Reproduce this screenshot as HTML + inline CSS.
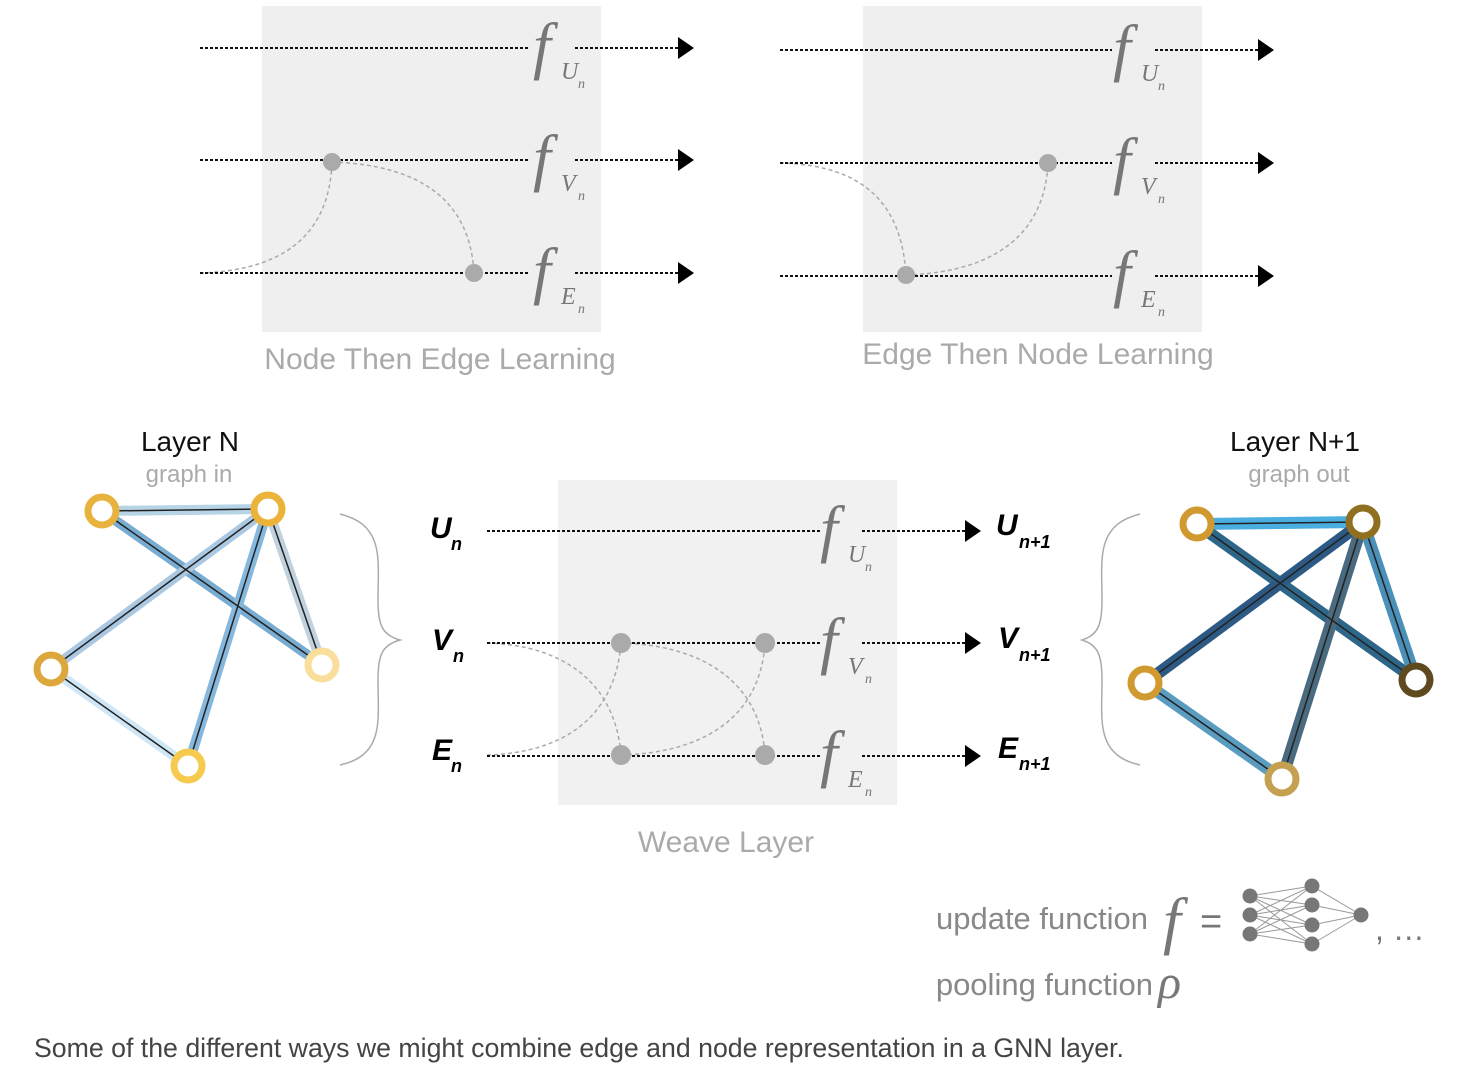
<!DOCTYPE html>
<html><head><meta charset="utf-8"><style>
body{margin:0;background:#fff;width:1474px;height:1074px;overflow:hidden}
svg{display:block}
.s{font-family:"Liberation Sans",sans-serif}
.d{stroke:#111;stroke-width:2;stroke-dasharray:3 2;fill:none}
.c{stroke:#aaa;stroke-width:1.5;stroke-dasharray:4 3;fill:none}
.f{font-family:"Liberation Serif",serif;font-style:italic;fill:#777}
.lab{font-family:"Liberation Sans",sans-serif;font-style:italic;font-weight:bold;fill:#000}
</style></head><body>
<svg width="1474" height="1074" viewBox="0 0 1474 1074" xmlns="http://www.w3.org/2000/svg">
<defs>
<g id="fU"><text class="f" font-size="64" x="0" y="5">f</text><text class="f" font-size="24" x="28" y="17">U</text><text class="f" font-size="14" x="45" y="26">n</text></g>
<g id="fV"><text class="f" font-size="64" x="0" y="5">f</text><text class="f" font-size="24" x="28" y="17">V</text><text class="f" font-size="14" x="45" y="26">n</text></g>
<g id="fE"><text class="f" font-size="64" x="0" y="5">f</text><text class="f" font-size="24" x="28" y="17">E</text><text class="f" font-size="14" x="45" y="26">n</text></g>
</defs>
<rect x="262" y="6" width="339" height="326" fill="#efefef"/>
<rect x="863" y="6" width="339" height="326" fill="#efefef"/>
<rect x="558" y="480" width="339" height="325" fill="#f1f1f1"/>

<!-- top-left -->
<path class="c" d="M200,273 C300,270 330,220 332,162"/>
<path class="c" d="M332,162 C420,165 470,200 474,273"/>
<g class="d"><path d="M200,48H530M575,48H680M200,160H530M575,160H680M200,273H530M575,273H680"/></g>
<path d="M678,37L694,48L678,59Z M678,149L694,160L678,171Z M678,262L694,273L678,284Z" fill="#000"/>
<circle cx="332" cy="162" r="9" fill="#aaa"/><circle cx="474" cy="273" r="9" fill="#aaa"/>
<use href="#fU" x="533" y="62"/><use href="#fV" x="533" y="174"/><use href="#fE" x="533" y="287"/>
<text class="s" x="440" y="369" font-size="30" fill="#aaa" text-anchor="middle">Node Then Edge Learning</text>

<!-- top-right -->
<path class="c" d="M780,163 C870,165 902,210 906,275"/>
<path class="c" d="M906,275 C1000,272 1045,230 1048,163"/>
<g class="d"><path d="M780,50H1112M1155,50H1258M780,163H1112M1155,163H1258M780,276H1112M1155,276H1258"/></g>
<path d="M1258,39L1274,50L1258,61Z M1258,152L1274,163L1258,174Z M1258,265L1274,276L1258,287Z" fill="#000"/>
<circle cx="1048" cy="163" r="9" fill="#aaa"/><circle cx="906" cy="275" r="9" fill="#aaa"/>
<use href="#fU" x="1113" y="64"/><use href="#fV" x="1113" y="177"/><use href="#fE" x="1113" y="290"/>
<text class="s" x="1038" y="364" font-size="30" fill="#aaa" text-anchor="middle">Edge Then Node Learning</text>

<!-- weave -->
<path class="c" d="M487,643 C560,645 615,680 621,755"/>
<path class="c" d="M487,755 C560,753 615,720 621,643"/>
<path class="c" d="M621,643 C700,645 760,680 765,755"/>
<path class="c" d="M621,755 C700,753 760,720 765,643"/>
<g class="d"><path d="M487,531H820M862,531H965M487,643H820M862,643H965M487,756H820M862,756H965"/></g>
<path d="M965,520L981,531L965,542Z M965,632L981,643L965,654Z M965,745L981,756L965,767Z" fill="#000"/>
<circle cx="621" cy="643" r="10" fill="#aaa"/><circle cx="765" cy="643" r="10" fill="#aaa"/>
<circle cx="621" cy="755" r="10" fill="#aaa"/><circle cx="765" cy="755" r="10" fill="#aaa"/>
<use href="#fU" x="820" y="545"/><use href="#fV" x="820" y="657"/><use href="#fE" x="820" y="770"/>
<text class="s" x="726" y="852" font-size="30" fill="#aaa" text-anchor="middle">Weave Layer</text>

<!-- labels -->
<text class="lab" x="430" y="538" font-size="30">U</text><text class="lab" x="451" y="550" font-size="18">n</text>
<text class="lab" x="432" y="650" font-size="30">V</text><text class="lab" x="453" y="662" font-size="18">n</text>
<text class="lab" x="432" y="760" font-size="30">E</text><text class="lab" x="451" y="772" font-size="18">n</text>
<text class="lab" x="996" y="535" font-size="30">U</text><text class="lab" x="1019" y="548" font-size="18">n+1</text>
<text class="lab" x="998" y="648" font-size="30">V</text><text class="lab" x="1019" y="661" font-size="18">n+1</text>
<text class="lab" x="998" y="758" font-size="30">E</text><text class="lab" x="1019" y="770" font-size="18">n+1</text>

<!-- braces -->
<path d="M340,514 C385,525 378,560 378,600 C378,625 382,635 400,640 C382,645 378,655 378,680 C378,720 385,755 340,765" stroke="#aaa" stroke-width="1.5" fill="none"/>
<path d="M1140,514 C1095,525 1102,560 1102,600 C1102,625 1098,635 1082,640 C1098,645 1102,655 1102,680 C1102,720 1095,755 1140,765" stroke="#aaa" stroke-width="1.5" fill="none"/>

<!-- left graph -->
<text class="s" x="190" y="451" font-size="28" fill="#111" text-anchor="middle">Layer N</text>
<text class="s" x="189" y="482" font-size="24" fill="#aaa" text-anchor="middle">graph in</text>
<g>
<line x1="102" y1="511" x2="268" y2="509" stroke="#b6d4e6" stroke-width="10"/>
<line x1="102" y1="511" x2="322" y2="665" stroke="#78acd0" stroke-width="10"/>
<line x1="268" y1="509" x2="51" y2="669" stroke="#aac8e2" stroke-width="10"/>
<line x1="268" y1="509" x2="188" y2="766" stroke="#86b8de" stroke-width="10"/>
<line x1="268" y1="509" x2="322" y2="665" stroke="#c0d2de" stroke-width="10"/>
<line x1="51" y1="669" x2="188" y2="766" stroke="#cfe6f6" stroke-width="10"/>
<g stroke="#222" stroke-width="1.5">
<line x1="102" y1="511" x2="268" y2="509"/><line x1="102" y1="511" x2="322" y2="665"/>
<line x1="268" y1="509" x2="51" y2="669"/><line x1="268" y1="509" x2="188" y2="766"/>
<line x1="268" y1="509" x2="322" y2="665"/><line x1="51" y1="669" x2="188" y2="766"/></g>
</g>
<g fill="#fff" stroke-width="7">
<circle cx="102" cy="511" r="14" stroke="#e8b23e"/><circle cx="268" cy="509" r="14" stroke="#ebb33a"/>
<circle cx="51" cy="669" r="14" stroke="#dca83e"/><circle cx="322" cy="665" r="14" stroke="#f9df9b"/>
<circle cx="188" cy="766" r="14" stroke="#f5ca4f"/></g>

<!-- right graph -->
<text class="s" x="1295" y="451" font-size="28" fill="#111" text-anchor="middle">Layer N+1</text>
<text class="s" x="1299" y="482" font-size="24" fill="#aaa" text-anchor="middle">graph out</text>
<g>
<line x1="1197" y1="524" x2="1363" y2="522" stroke="#4aafe0" stroke-width="12"/>
<line x1="1197" y1="524" x2="1416" y2="680" stroke="#2d6688" stroke-width="12"/>
<line x1="1363" y1="522" x2="1145" y2="683" stroke="#2d5a84" stroke-width="12"/>
<line x1="1363" y1="522" x2="1282" y2="779" stroke="#4a6a80" stroke-width="12"/>
<line x1="1363" y1="522" x2="1416" y2="680" stroke="#4a90b8" stroke-width="12"/>
<line x1="1145" y1="683" x2="1282" y2="779" stroke="#5a9cc0" stroke-width="12"/>
<g stroke="#222" stroke-width="1.5">
<line x1="1197" y1="524" x2="1363" y2="522"/><line x1="1197" y1="524" x2="1416" y2="680"/>
<line x1="1363" y1="522" x2="1145" y2="683"/><line x1="1363" y1="522" x2="1282" y2="779"/>
<line x1="1363" y1="522" x2="1416" y2="680"/><line x1="1145" y1="683" x2="1282" y2="779"/></g>
</g>
<g fill="#fff" stroke-width="7">
<circle cx="1197" cy="524" r="14" stroke="#d09a30"/><circle cx="1363" cy="522" r="14" stroke="#8e7020"/>
<circle cx="1145" cy="683" r="14" stroke="#d09a30"/><circle cx="1416" cy="680" r="14" stroke="#5e4a1e"/>
<circle cx="1282" cy="779" r="14" stroke="#c4a050"/></g>

<!-- legend -->
<text class="s" x="1148" y="929" font-size="31" fill="#888" text-anchor="end">update function</text>
<text class="f" x="1163" y="942" font-size="64">f</text>
<text class="s" x="1200" y="934" font-size="38" fill="#777">=</text>
<g stroke="#999" stroke-width="1">
<path d="M1250,896L1312,886M1250,896L1312,905M1250,896L1312,925M1250,896L1312,944M1250,915L1312,886M1250,915L1312,905M1250,915L1312,925M1250,915L1312,944M1250,934L1312,886M1250,934L1312,905M1250,934L1312,925M1250,934L1312,944M1312,886L1361,915M1312,905L1361,915M1312,925L1361,915M1312,944L1361,915"/></g>
<g fill="#777"><circle cx="1250" cy="896" r="7.5"/><circle cx="1250" cy="915" r="7.5"/><circle cx="1250" cy="934" r="7.5"/>
<circle cx="1312" cy="886" r="7.5"/><circle cx="1312" cy="905" r="7.5"/><circle cx="1312" cy="925" r="7.5"/><circle cx="1312" cy="944" r="7.5"/>
<circle cx="1361" cy="915" r="7.5"/></g>
<text class="s" x="1375" y="940" font-size="32" fill="#777">, …</text>
<text class="s" x="1153" y="995" font-size="31" fill="#888" text-anchor="end">pooling function</text>
<text class="f" x="1158" y="998" font-size="48">ρ</text>

<text class="s" x="34" y="1057" font-size="26.7" fill="#444">Some of the different ways we might combine edge and node representation in a GNN layer.</text>
</svg>
</body></html>
